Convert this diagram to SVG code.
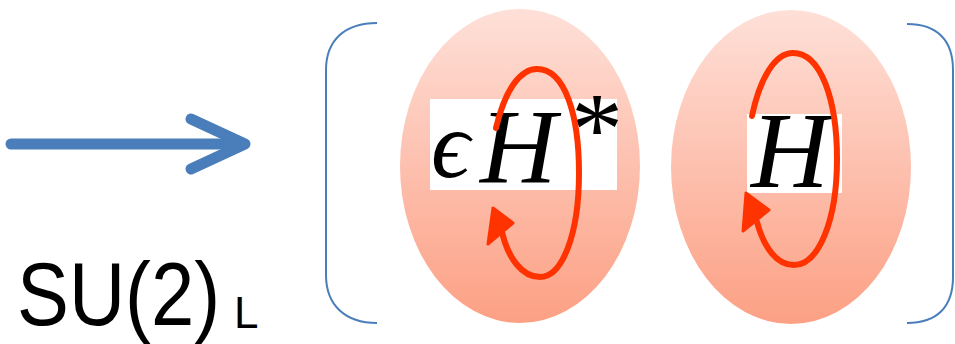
<svg xmlns="http://www.w3.org/2000/svg" width="955" height="344" viewBox="0 0 955 344">
<defs>
<linearGradient id="pink" x1="0" y1="0" x2="0" y2="1">
<stop offset="0" stop-color="#fee0d8"/>
<stop offset="1" stop-color="#fca084"/>
</linearGradient>
</defs>
<style>
.blue{fill:none;stroke:#4a7ebb;stroke-linecap:round;stroke-linejoin:round}
.brk{fill:none;stroke:#4a7ebb;stroke-width:2}
.ell{fill:url(#pink)}
.loop{fill:none;stroke:#ff3300;stroke-width:6;stroke-linecap:round}
.head{fill:#ff3300;stroke:#ff3300;stroke-width:3;stroke-linejoin:round}
.math{font-family:"Liberation Serif","DejaVu Serif",serif;font-style:italic;fill:#000}
.sans{font-family:"Liberation Sans",Arial,sans-serif;fill:#000}
</style>
<g id="connectors">
<path class="blue" d="M11 144 H240" stroke-width="11" stroke-linecap="butt"/>
<path class="blue" d="M191 119 L245 144 L191 169" stroke-width="11"/>
</g>
<g id="label-su2">
<text class="sans" transform="translate(17,325) scale(0.874,1)" x="0" y="0" font-size="89">SU(2)</text>
<text class="sans" x="234" y="328" font-size="44">L</text>
</g>
<g id="bracket-left">
<path class="brk" d="M377 23 C345 23 326 40 326 70 V275 C326 305 345 323 377 323"/>
</g>
<g id="bracket-right">
<path class="brk" d="M907 24 C937 24 953 40 953 70 V277 C953 307 937 323 907 323"/>
</g>
<g id="node-epsHstar">
<ellipse class="ell" cx="520" cy="166" rx="120" ry="157"/>
<rect x="430" y="99" width="187" height="91" fill="#fff"/>
<text class="math" x="431" y="177" font-size="96">ϵ</text>
<text class="math" x="480" y="182" font-size="106">H</text>
<text x="571" y="164" font-size="104" font-family="Liberation Serif,serif" fill="#000">*</text>
<path class="loop" d="M496 128 C505 90 520 69 537 69 C565 69 579 115 579 173 C579 235 562 277 540 277 C522 277 508 258 502 232"/>
<polygon class="head" points="493,208 488,244 513,223"/>
</g>
<g id="node-H">
<ellipse class="ell" cx="791" cy="167" rx="120" ry="157"/>
<rect x="747" y="114" width="95" height="79" fill="#fff"/>
<text class="math" x="751" y="187" font-size="108">H</text>
<path class="loop" d="M752 116 C760 78 775 53 793 53 C821 53 837 100 837 159 C837 222 818 265 794 265 C777 265 764 248 757 222"/>
<polygon class="head" points="746,193 743,231 769,210"/>
</g>
</svg>
